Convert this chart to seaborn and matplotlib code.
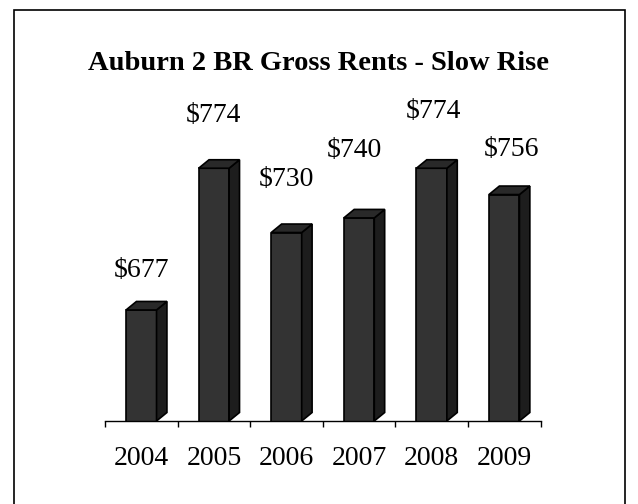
import matplotlib
matplotlib.use("Agg")
import matplotlib.pyplot as plt
from matplotlib.patches import Polygon, Rectangle
import seaborn as sns
import pandas as pd

years = ["2004", "2005", "2006", "2007", "2008", "2009"]
rents = [677, 774, 730, 740, 774, 756]
title = "Auburn 2 BR Gross Rents - Slow Rise"

# excel's 3d labels don't sit evenly above the bars, nudges in px
label_dx = [0, 0, 0, -5, 2, 7]
label_dy = [39, 53, 53, 67, 57, 45]

sns.set_theme(style="white")
plt.rcParams["font.family"] = ["Liberation Serif", "DejaVu Serif"]

W, H = 638, 504
fig = plt.figure(figsize=(W / 100, H / 100), dpi=100)

# axis floor at y=421px, 1.461 px per dollar
ymin, ymax = 601, 800
px_per_dollar = 1.461
ax_h = (ymax - ymin) * px_per_dollar
ax = fig.add_axes([105 / W, (H - 421) / H, 435.5 / W, ax_h / H])

df = pd.DataFrame({"year": years, "rent": rents})
sns.barplot(data=df, x="year", y="rent", color="#333333", saturation=1,
            width=0.42, edgecolor="black", linewidth=1.2, ax=ax)
ax.set_ylim(ymin, ymax)
ax.set_xlim(-0.5, len(years) - 0.5)

# fake 3d: side + top faces
dx = 10.4 / (435.5 / len(years))
dy = 8.5 / px_per_dollar
for p in list(ax.patches):
    x0, w, top = p.get_x(), p.get_width(), p.get_height()
    x1 = x0 + w
    side = Polygon([(x1, ymin), (x1 + dx, ymin + dy), (x1 + dx, top + dy), (x1, top)],
                   closed=True, facecolor="#1d1d1d", edgecolor="black", linewidth=1.2)
    cap = Polygon([(x0, top), (x0 + dx, top + dy), (x1 + dx, top + dy), (x1, top)],
                  closed=True, facecolor="#292929", edgecolor="black", linewidth=1.2)
    ax.add_patch(side)
    ax.add_patch(cap)

# value labels
for i, v in enumerate(rents):
    ax.annotate(f"${v}", xy=(i, v), xytext=(label_dx[i] * 0.72, label_dy[i] * 0.72),
                textcoords="offset points", ha="center", va="center",
                fontsize=20, color="black", annotation_clip=False)

# axis styling
sns.despine(ax=ax, left=True)
ax.spines["bottom"].set_color("black")
ax.spines["bottom"].set_linewidth(1.0)
ax.set_yticks([])
ax.set_xlabel("")
ax.set_ylabel("")
ax.set_xticks(range(len(years)))
ax.set_xticklabels(years, fontsize=20, color="black")
ax.set_xticks([i - 0.5 for i in range(len(years) + 1)], minor=True)
ax.tick_params(axis="x", which="major", length=0, pad=18)
ax.tick_params(axis="x", which="minor", bottom=True, length=4.5, width=1.0,
               color="black", direction="out")

fig.text(0.5, 1 - 63 / H, title, ha="center", va="center",
         fontsize=20.5, fontweight="bold", color="black")

# chart border (bottom edge sits off-canvas)
fig.patches.append(Rectangle((14 / W, -0.05), (625 - 14) / W, 0.05 + (H - 10) / H,
                             transform=fig.transFigure, fill=False,
                             edgecolor="black", linewidth=1.2))

fig.savefig("out.png", dpi=100)
plt.close(fig)
